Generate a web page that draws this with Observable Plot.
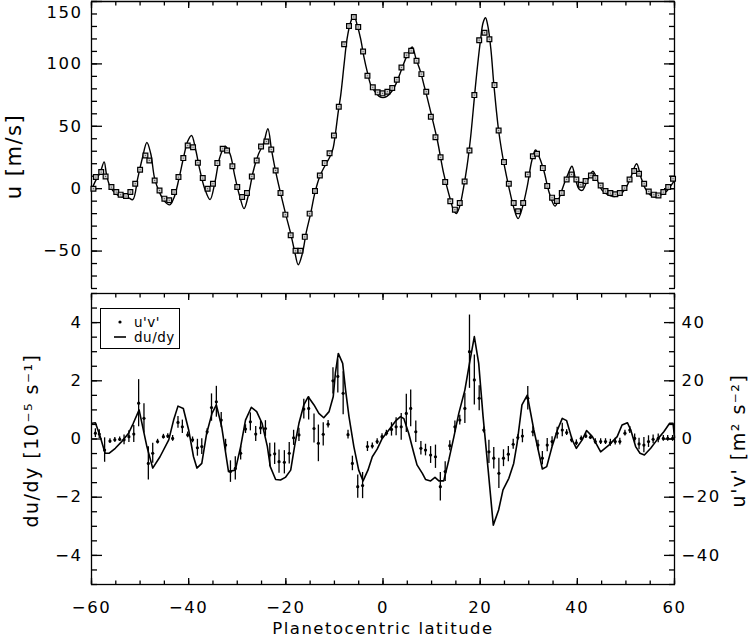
<!DOCTYPE html>
<html><head><meta charset="utf-8">
<script src="https://cdn.jsdelivr.net/npm/d3@7"></script>
<script src="https://cdn.jsdelivr.net/npm/@observablehq/plot@0.6"></script>
<style>
html,body{margin:0;padding:0;background:#fff;}
#wrap{position:relative;width:748px;height:639px;overflow:hidden;background:#fff;}
#wrap svg{display:block;}
#legend{position:absolute;left:100px;top:308px;width:78px;height:39px;border:1px solid #000;background:#fff;font-family:"DejaVu Sans",sans-serif;font-size:13.5px;}
</style></head><body><div id="wrap"></div>
<script>
// ---- top panel: zonal wind u (m/s) ----
const uObsLat = [
-59.6,-59.1,-58.0,-57.1,-55.9,-54.9,-54.0,-52.9,-52.0,-51.0,
-50.0,-48.9,-48.1,-47.0,-46.0,-45.0,-44.0,-43.0,-42.1,-41.1,
-40.2,-39.1,-38.1,-37.1,-36.1,-35.0,-34.1,-33.0,-32.1,-31.0,
-30.0,-29.0,-28.0,-27.0,-26.0,-25.1,-24.0,-23.0,-22.1,-21.1,
-20.1,-19.0,-18.0,-17.0,-16.1,-15.1,-14.0,-13.0,-12.0,-11.0,
-10.1,-9.1,-8.0,-7.0,-6.0,-5.1,-4.1,-3.2,-2.1,-1.1,
-0.1,0.9,1.9,2.85,3.8,4.85,5.8,6.9,7.9,8.9,
9.85,10.8,11.85,12.8,13.85,14.8,15.8,16.8,17.8,18.8,
19.8,20.9,21.9,22.95,23.8,24.9,25.9,26.9,27.8,28.85,
29.8,30.85,31.7,32.9,33.8,34.8,35.8,36.8,37.8,38.8,
39.8,40.7,41.7,42.8,43.7,44.8,45.8,46.8,47.8,48.75,
49.7,50.75,51.7,52.7,53.75,54.7,55.75,56.7,57.7,58.7,
59.7];
const uObsVal = [
0,9.3,13.3,9.8,1.3,-2.7,-4.8,-5.9,-2.7,4,
15.2,26.6,22.6,6.6,-1.4,-8,-9.3,-2.7,9.3,24.5,
34.6,33.2,20.8,8.5,0,4,20.5,32,30.6,18,
1.3,-6.7,-3.5,9.8,22.6,33.8,37.8,31.4,14.6,-3.5,
-20.8,-37.3,-49.8,-49.8,-38.6,-20,-1.9,10.6,20.5,28.4,
42.6,65.7,115.8,130.4,137.6,129.6,109.9,90.5,81.2,77.2,
76.4,77.7,80.7,87.3,97.1,107,110.5,102.5,91.8,77.7,
57.7,41.2,25.2,5.3,-10.1,-16.8,-11.5,5.8,30.6,75,
119,125,119.8,83,46.6,21.3,4,-11.5,-18.1,-11.5,
11.4,26,28,16.5,2.1,-7.2,-9.9,-3.5,7.4,11.4,
7.4,3.2,6.1,10.6,8.5,2.6,-1.9,-3.5,-4.5,-3.5,
0.5,7.4,14.1,12,4,-2.2,-4.8,-5.4,-2.7,1.3,
8];
const uFitLat = [
-60,-59.2,-58.2,-57.4,-56.9,-56.2,-55.0,-53.8,-52.5,-51.5,
-50.5,-49.5,-48.6,-47.8,-47.0,-46.0,-45.0,-43.9,-43.0,-42.0,
-41.0,-40.2,-39.4,-38.6,-37.7,-36.7,-35.6,-34.6,-33.6,-32.5,
-31.5,-30.5,-29.5,-28.6,-27.7,-26.7,-25.6,-24.6,-23.7,-22.9,
-22.0,-21.0,-20.0,-19.0,-18.2,-17.45,-16.6,-15.8,-14.9,-14.0,
-13.0,-12.0,-11.0,-10.3,-9.8,-9.2,-8.7,-8.0,-7.4,-6.7,
-6.0,-5.3,-4.6,-3.9,-3.2,-2.5,-1.7,-0.8,0,0.8,
1.9,2.9,3.95,5.0,6.0,6.8,7.7,8.5,9.1,10.1,
11.2,12.5,13.9,14.5,15.1,15.8,16.6,17.3,18.0,18.5,
19.0,19.5,20.1,20.6,21.1,21.6,22.2,22.8,23.3,23.8,
24.4,24.9,25.9,26.9,27.8,28.7,29.7,30.6,31.4,32.2,
33.1,34.2,35.4,36.3,37.2,38.1,38.9,39.6,40.3,41.0,
42.0,43.2,44.2,45.1,46.3,47.9,49.0,49.9,51.0,52.2,
53.1,54.0,55.0,56.1,57.2,58.2,59.2,60];
const uFitVal = [
-1,6,13,21.5,11,2,-4,-6.5,-7,-8.8,
8,25,37,28,8,-3,-10,-13,-7,8,
26,38,42.6,32,15,0,-8.8,5,25,34,
28,10,-6,-16,-5,14,28,36,48,30,
12,-5,-21,-36,-50,-61,-52,-35,-20,-3,
10,18,25,32,44,62,75,100,120,133,
139,131,120,105,93,83,78,74,73,74,
78.5,86,97,107,113.5,104,94,82,73,57,
38.6,12,-9.3,-17,-20,-14,1.3,18,40,60,
81,100,120,133,137,130,112,84,64,46.6,
31,20,1.3,-15,-24,-15,2,22,31,25,
14.6,-3,-14,-7,3,12,18,8,0,-1.4,
6,14,6,-1.4,-5,-6.2,-4,0,9,20,
9,0,-5,-6.7,-5,-2.7,2,6.6];

// ---- bottom panel: du/dy (1e-5 s^-1) and u'v' (m^2 s^-2) ----
const dudyLat = [
-59.9,-59.2,-58.2,-57.2,-56.4,-55.1,-53.8,-52.4,-51.4,-50.2,
-48.6,-47.4,-45.9,-44.1,-43.1,-42.2,-41.1,-40.0,-39.0,-38.3,
-37.3,-36.3,-35.2,-34.3,-33.2,-31.8,-30.4,-29.3,-28.3,-27.1,
-26.0,-24.9,-23.8,-23.2,-22.1,-21.1,-20.1,-19.0,-18.1,-17.3,
-16.3,-15.4,-14.2,-13.2,-12.2,-11.1,-10.25,-9.8,-9.2,-8.3,
-7.7,-7.0,-6.0,-5.0,-4.1,-3.1,-2.2,-1.2,-0.16,1.2,
2.6,3.6,4.3,5.3,6.35,7.0,8.1,8.75,9.8,10.7,
11.5,12.5,13.55,14.6,15.6,16.85,17.8,18.8,19.7,20.6,
21.65,22.7,23.8,24.7,25.9,26.9,27.6,28.6,29.7,31.05,
32.8,33.7,34.8,35.9,36.9,37.8,38.95,39.8,41.0,41.9,
43.1,44.8,46.5,48.2,49.2,50.3,51.0,52.0,52.9,53.8,
55.1,56.4,57.8,59.0,59.7,60];
const dudyVal = [
0.54,0.56,0.08,-0.49,-0.49,-0.32,-0.09,0.19,0.54,1.0,
-0.26,-1.0,-0.61,-0.03,0.65,1.13,1.05,0.31,-0.61,-1.0,
-0.84,0.19,0.88,1.17,0.42,-1.12,-1.07,-0.26,0.65,1.09,
0.94,0.54,-0.26,-0.95,-1.39,-1.41,-1.32,-1.07,-0.15,0.54,
1.17,1.45,1.17,0.88,0.73,0.94,1.45,2.26,2.94,2.6,
1.68,0.77,-0.26,-1.07,-1.44,-1.07,-0.61,-0.35,0.02,0.31,
0.62,0.77,0.7,0.19,-0.49,-0.89,-1.18,-1.39,-1.44,-1.32,
-1.44,-1.44,-0.72,0.08,0.88,1.68,2.6,3.52,2.6,0.77,
-1.07,-2.96,-2.44,-1.75,-1.35,-0.84,-0.15,1.17,1.51,0.31,
-1.03,-0.95,-0.26,0.31,0.71,0.63,-0.03,-0.32,-0.03,0.29,
0.08,-0.44,-0.21,0.08,0.48,0.56,0.31,-0.26,-0.49,-0.55,
-0.32,-0.03,0.25,0.54,0.54,0.05];
const uvLat = [
-59.2,-58.4,-57.3,-56.2,-55.2,-54.2,-53.3,-52.3,-51.3,-50.3,
-49.2,-48.3,-47.4,-46.4,-45.2,-44.3,-43.3,-42.2,-41.3,-40.2,
-39.2,-38.2,-37.3,-36.2,-35.3,-34.3,-33.3,-32.4,-31.4,-30.4,
-29.3,-28.3,-27.3,-26.2,-25.2,-24.2,-23.3,-22.3,-21.4,-20.3,
-19.3,-18.4,-17.3,-16.3,-15.3,-14.2,-13.3,-12.3,-11.3,-10.3,
-9.3,-8.2,-7.2,-6.3,-5.2,-4.2,-3.2,-2.2,-1.2,-0.2,
0.7,1.75,2.7,3.75,4.8,5.7,6.75,7.8,8.75,9.8,
10.8,11.8,12.8,13.75,14.8,15.8,16.85,17.8,18.8,19.8,
20.75,21.8,22.8,23.85,24.8,25.8,26.8,27.75,28.7,29.8,
30.85,31.9,32.8,33.8,34.8,35.85,36.9,37.8,38.8,39.8,
40.8,41.75,42.7,43.7,44.8,45.8,46.8,47.8,48.75,49.8,
50.8,51.8,52.7,53.7,54.65,55.6,56.65,57.7,58.6,59.6];
const uvVal = [
2.0,1.7,-3.8,-0.7,-0.3,-0.1,-0.3,0.8,1.7,12.3,
7.1,-8.4,-4.9,-0.9,0.8,1.0,0.2,5.7,4.2,1.4,
-0.3,-3.0,-2.6,2.5,10.8,12.8,6.5,-2.1,-11.2,-10.1,
-4.9,3.4,5.9,1.7,3.8,3.6,-5.5,-5.1,-7.8,-8.0,
-4.9,0.4,1.4,10.3,10.5,3.6,-1.5,1.6,5.1,20.0,
21.5,15.7,1.5,-8.4,-16.4,-16.0,-2.6,-2.4,-0.9,0.8,
2.0,3.3,4.2,4.2,8.8,10.5,2.5,-3.2,-3.8,-5.5,
-6.1,-16.4,-11.2,-2.3,4.2,6.5,10.5,30.0,20.3,14.0,
3.1,-4.4,-6.6,-11.8,-6.6,-5.2,-1.8,0.5,1.0,14.0,
2.5,-2.1,-6.6,-2.1,-0.9,2.0,3.1,2.2,-0.3,-1.3,
0.2,1.0,0.6,-0.9,-0.9,-0.9,-1.3,-0.9,-0.9,2.0,
3.1,0.2,-1.7,-2.1,-0.9,-0.1,0.2,0.2,0.2,0.2];
const uvErr = [
1.5,1.5,4.2,0.8,0.8,0.8,1.7,2.0,2.9,8.1,
5.0,5.7,3.4,0.8,0.8,0.8,1.0,2.0,2.3,1.0,
1.0,2.9,2.7,1.0,4.7,5.3,2.6,2.0,3.7,4.0,
2.3,1.5,3.1,2.6,2.3,2.7,4.0,3.7,4.0,4.0,
3.7,2.6,2.3,3.4,4.0,5.0,6.3,4.0,1.3,4.5,
5.7,7.4,1.5,2.5,4.0,4.5,1.7,1.0,1.0,1.0,
1.0,2.3,3.1,4.6,6.6,6.3,3.7,2.3,2.0,2.9,
4.0,4.9,3.4,1.7,2.0,1.7,5.2,12.6,8.6,4.3,
1.0,4.0,3.7,5.2,2.9,2.6,1.7,1.0,2.3,4.0,
1.7,1.7,2.3,2.3,1.7,2.0,2.3,1.0,1.0,1.0,
0.8,0.8,0.8,1.0,1.0,1.0,1.2,1.2,1.2,1.0,
1.2,1.5,2.0,2.6,2.0,1.5,1.5,1.0,1.0,1.0];

// ---- tick values ----
const latMajor = [-60, -40, -20, 0, 20, 40, 60];
const latMinor = d3.range(-60, 61, 5);
const uMajor = [-50, 0, 50, 100, 150];
const uMinor = d3.range(-80, 151, 10);
const dMajor = [-4, -2, 0, 2, 4];
const dMinor = d3.range(-5, 5.001, 0.5);
const uvMajor = [-40, -20, 0, 20, 40];
const uvMinor = d3.range(-50, 51, 5);

const uObs = uObsLat.map((lat, i) => ({lat, u: uObsVal[i]}));
const uFit = uFitLat.map((lat, i) => ({lat, u: uFitVal[i]}));
const dudy = dudyLat.map((lat, i) => ({lat, v: dudyVal[i]}));
const uv = uvLat.map((lat, i) => ({lat, v: uvVal[i], e: uvErr[i]}));

const fmt = d => (d < 0 ? "\u2212" + Math.abs(d) : String(d));
const blank = () => "";
const FONT = '"DejaVu Sans", sans-serif';
const style = {fontFamily: FONT, fontSize: "16.5px", color: "#000", background: "#fff", overflow: "visible", letterSpacing: "1.5px"};
const SW = 1.3;

const topPlot = Plot.plot({
  width: 748, height: 288,
  marginTop: 1, marginBottom: 0, marginLeft: 91, marginRight: 74,
  style,
  x: {domain: [-60, 60], label: null},
  y: {domain: [-80, 150], label: null},
  marks: [
    Plot.ruleX([-60, 60], {strokeWidth: SW}),
    Plot.ruleY([150], {strokeWidth: SW}),
    Plot.axisX(latMajor, {anchor: "top", tickSize: -6, tickFormat: blank, label: null, strokeWidth: SW}),
    Plot.axisX(latMinor, {anchor: "top", tickSize: -3.5, tickFormat: blank, label: null, strokeWidth: SW}),
    Plot.axisY(uMajor, {anchor: "left", tickSize: -11, tickPadding: 20, tickFormat: d => (d === 150 ? "" : fmt(d)), label: null, strokeWidth: SW}),
    Plot.axisY(uMinor, {anchor: "left", tickSize: -6, tickFormat: blank, label: null, strokeWidth: SW}),
    Plot.axisY(uMajor, {anchor: "right", tickSize: -11, tickFormat: blank, label: null, strokeWidth: SW}),
    Plot.axisY(uMinor, {anchor: "right", tickSize: -6, tickFormat: blank, label: null, strokeWidth: SW}),
    Plot.text([150], {y: d => d, frameAnchor: "left", dx: -9, dy: 11.5, textAnchor: "end", text: d => fmt(d)}),
    Plot.line(uFit, {x: "lat", y: "u", curve: "catmull-rom", stroke: "#000", strokeWidth: 1.4}),
    Plot.dot(uObs, {x: "lat", y: "u", symbol: "square", r: 2.7, fill: "#d0d0d0", stroke: "#000", strokeWidth: 1.2}),
    Plot.dot(uObs, {x: "lat", y: "u", r: 0.6, fill: "#555"}),
    Plot.text(["u [m/s]"], {frameAnchor: "left", dx: -77, dy: 11.5, rotate: -90, textAnchor: "middle", fontSize: 21})
  ]
});

const botPlot = Plot.plot({
  width: 748, height: 351,
  marginTop: 5, marginBottom: 55, marginLeft: 91, marginRight: 74,
  style,
  x: {domain: [-60, 60], label: null},
  y: {domain: [-5, 5], label: null},
  marks: [
    Plot.frame({strokeWidth: SW}),
    Plot.axisX(latMajor, {anchor: "top", tickSize: -6, tickFormat: blank, label: null, strokeWidth: SW}),
    Plot.axisX(latMinor, {anchor: "top", tickSize: -3.5, tickFormat: blank, label: null, strokeWidth: SW}),
    Plot.axisX(latMajor, {anchor: "bottom", tickSize: -6, tickPadding: 23, tickFormat: fmt, label: null, strokeWidth: SW}),
    Plot.axisX(latMinor, {anchor: "bottom", tickSize: -3.5, tickFormat: blank, label: null, strokeWidth: SW}),
    Plot.axisY(dMajor, {anchor: "left", tickSize: -11, tickPadding: 20, tickFormat: fmt, label: null, strokeWidth: SW}),
    Plot.axisY(dMinor, {anchor: "left", tickSize: -6, tickFormat: blank, label: null, strokeWidth: SW}),
    Plot.axisY(uvMajor.map(v => v / 10), {anchor: "right", tickSize: -11, tickPadding: 18, tickFormat: d => fmt(Math.round(d * 10)), label: null, strokeWidth: SW}),
    Plot.axisY(uvMinor.map(v => v / 10), {anchor: "right", tickSize: -6, tickFormat: blank, label: null, strokeWidth: SW}),
    Plot.ruleX(uv, {x: "lat", y1: d => (d.v - d.e) / 10, y2: d => (d.v + d.e) / 10, stroke: "#000", strokeWidth: 1.3}),
    Plot.dot(uv, {x: "lat", y: d => d.v / 10, r: 1.6, fill: "#000"}),
    Plot.line(dudy, {x: "lat", y: "v", stroke: "#000", strokeWidth: 1.6}),
    Plot.text(["du/dy [10\u207B\u2075 s\u207B\u00B9]"], {frameAnchor: "left", dx: -60, dy: 1.5, rotate: -90, textAnchor: "middle", fontSize: 19}),
    Plot.text(["u'v' [m\u00B2 s\u207B\u00B2]"], {frameAnchor: "right", dx: 64, dy: 1.5, rotate: -90, textAnchor: "middle", fontSize: 19}),
    Plot.text(["Planetocentric latitude"], {frameAnchor: "bottom", dy: 49, fontSize: 16.5})
  ]
});

const wrap = document.getElementById("wrap");
wrap.appendChild(topPlot);
wrap.appendChild(botPlot);

// legend box (u'v' dots and du/dy line)
const legend = document.createElement("div");
legend.id = "legend";
legend.innerHTML = `<svg width="78" height="39" style="position:absolute;left:0;top:0;overflow:visible">
  <circle cx="19" cy="13" r="1.6" fill="#000"></circle>
  <line x1="13" x2="25" y1="28" y2="28" stroke="#000" stroke-width="1.6"></line>
  <text x="33" y="13" dy="0.35em" font-family='${FONT}' font-size="13.5" letter-spacing="0.5">u'v'</text>
  <text x="33" y="28" dy="0.35em" font-family='${FONT}' font-size="13.5" letter-spacing="0.5">du/dy</text>
</svg>`;
wrap.appendChild(legend);
</script>
</body></html>
